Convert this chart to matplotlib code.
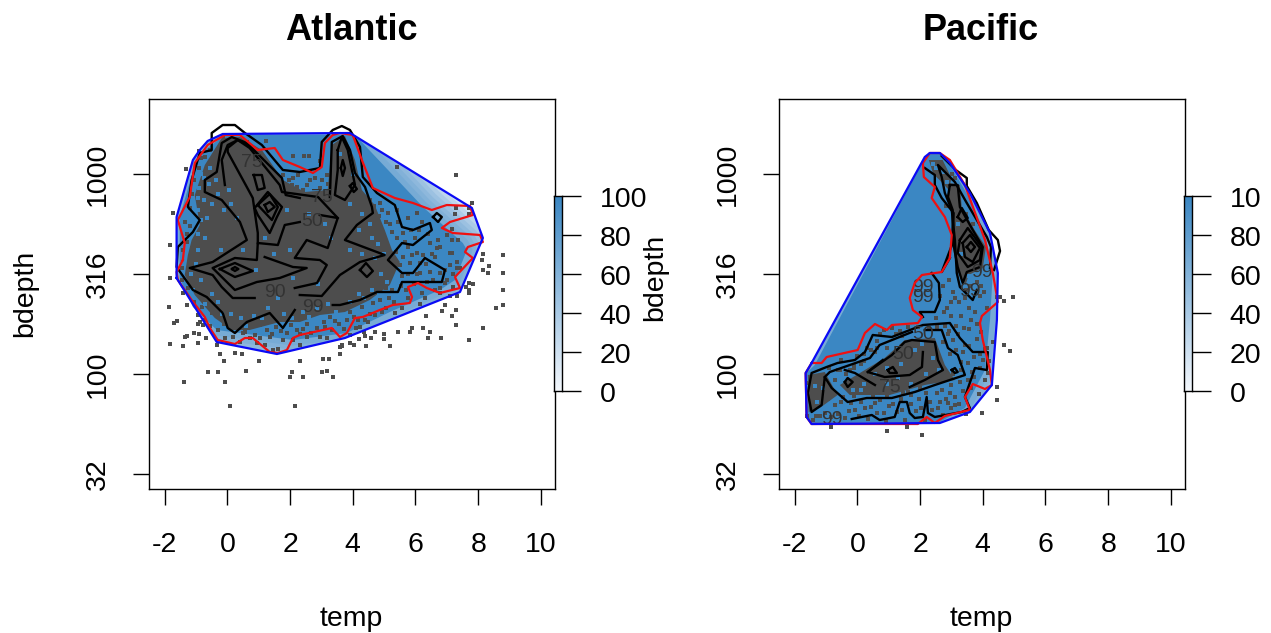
import numpy as np
import matplotlib
matplotlib.use('Agg')
import matplotlib.pyplot as plt
from matplotlib.patches import Polygon
from matplotlib.transforms import ScaledTranslation

plt.rcParams['font.family'] = ['Liberation Sans', 'DejaVu Sans']

# every pair is (temp, log10 bdepth)
x_ticks = [-2, 0, 2, 4, 6, 8, 10]
y_ticks = [3, 2.5, 2, 1.5]
y_tick_labels = ['1000', '316', '100', '32']
bar_ticks = [0, 20, 40, 60, 80, 100]
bar_labels = ['0', '20', '40', '60', '80', '100']
bar_labels_pacific = ['0', '20', '40', '60', '80', '10']

atl_hull = [(-1.62, 2.48), (-1.62, 2.785), (-1.10, 3.07), (-0.88, 3.12), (-0.63, 3.165), (-0.15, 3.20),
            (3.91, 3.205), (7.80, 2.83), (8.15, 2.68), (7.42, 2.41), (3.75, 2.18), (1.58, 2.10), (-0.34, 2.16)]
atl_core = [(4.07, 3.195), (6.24, 2.835), (7.51, 2.655), (7.64, 2.62), (7.26, 2.47), (6.78, 2.42), (5.18, 2.31),
            (3.81, 2.205), (2.09, 2.17), (-0.34, 2.22), (-1.10, 2.335), (-1.52, 2.48), (-1.52, 2.785),
            (-1.04, 3.045), (-0.72, 3.12), (-0.08, 3.195)]
atl_dense = [(-0.18, 3.18), (0.40, 3.185), (1.10, 3.12), (1.77, 2.97), (2.47, 2.91), (3.20, 2.92), (3.33, 3.145),
             (3.75, 3.19), (4.07, 3.07), (4.29, 2.92), (4.70, 2.845), (5.02, 2.72), (5.25, 2.62), (5.50, 2.56),
             (5.18, 2.445), (4.54, 2.37), (3.75, 2.31), (2.95, 2.295), (2.31, 2.26), (1.67, 2.26), (0.71, 2.22),
             (0.14, 2.22), (-0.40, 2.28), (-1.04, 2.395), (-1.36, 2.495), (-1.26, 2.595), (-1.14, 2.67),
             (-0.88, 2.745), (-1.04, 2.895), (-0.72, 3.045)]
atl_red = [(-1.42, 2.57), (-1.36, 2.655), (-1.58, 2.77), (-1.20, 2.885), (-1.04, 3.055), (-0.63, 3.145),
           (-0.08, 3.195), (0.40, 3.195), (0.97, 3.12), (1.51, 3.13), (1.77, 3.07), (2.31, 3.035), (2.73, 3.005),
           (3.01, 3.035), (3.11, 3.155), (3.36, 3.195), (3.59, 3.205), (4.00, 3.195), (4.29, 3.07), (4.64, 2.93),
           (5.34, 2.88), (5.92, 2.855), (6.52, 2.82), (7.00, 2.845), (7.74, 2.84), (7.83, 2.795), (7.10, 2.76),
           (6.84, 2.73), (7.19, 2.705), (8.06, 2.695), (8.15, 2.66), (7.67, 2.635), (7.58, 2.61), (7.83, 2.58),
           (7.26, 2.485), (7.42, 2.43), (6.78, 2.405), (6.36, 2.43), (6.08, 2.455), (5.76, 2.435), (5.89, 2.385),
           (5.82, 2.355), (5.28, 2.345), (4.86, 2.32), (4.32, 2.285), (4.07, 2.28), (3.81, 2.205), (3.59, 2.185),
           (3.33, 2.23), (3.05, 2.22), (2.31, 2.195), (2.09, 2.18), (1.90, 2.12), (1.61, 2.105), (1.35, 2.11),
           (0.81, 2.18), (0.56, 2.18), (0.24, 2.15), (-0.31, 2.17), (-0.56, 2.23), (-0.72, 2.285), (-1.14, 2.37),
           (-1.58, 2.47), (-1.62, 2.51), (-1.42, 2.57)]
atl_contours = [
    [(2.15, 2.32), (1.77, 2.23), (1.35, 2.305), (0.62, 2.26), (0.24, 2.205), (0.01, 2.23), (-0.15, 2.305),
     (-0.66, 2.385), (-1.10, 2.42), (-1.62, 2.535), (-1.58, 2.635), (-1.10, 2.71), (-0.88, 2.77), (-1.26, 2.835),
     (-1.14, 2.97), (-0.88, 3.105), (-0.50, 3.12), (-0.50, 3.205), (-0.15, 3.245), (0.24, 3.245), (0.56, 3.205),
     (1.10, 3.145), (1.77, 3.02), (2.31, 3.01), (2.95, 3.03), (3.01, 3.16), (3.36, 3.22), (3.65, 3.24),
     (3.91, 3.22), (4.23, 3.135), (4.32, 2.985), (4.77, 2.905), (5.34, 2.845), (5.57, 2.735), (5.92, 2.72),
     (6.46, 2.755), (6.52, 2.72), (5.92, 2.645), (5.57, 2.655), (5.12, 2.57), (5.57, 2.505), (5.92, 2.505),
     (6.30, 2.58), (6.94, 2.52), (6.84, 2.46), (5.57, 2.46), (5.44, 2.41), (4.77, 2.41), (4.23, 2.37),
     (3.59, 2.345), (3.36, 2.345)],
    [(0.87, 2.38), (0.17, 2.38), (-0.18, 2.435), (-0.47, 2.495), (-1.20, 2.53), (-0.47, 2.56), (0.62, 2.67),
     (0.40, 2.76), (-0.18, 2.87), (-0.72, 2.91), (-0.72, 2.97), (-0.34, 3.01), (-0.18, 3.155), (0.14, 3.185),
     (0.62, 3.155), (1.74, 2.98), (1.86, 2.895), (2.31, 2.88)],
    [(3.27, 2.885), (3.33, 3.16), (3.68, 3.19), (3.91, 3.12), (4.07, 3.005), (4.39, 2.935), (4.61, 2.835),
     (4.64, 2.805), (4.13, 2.745), (3.75, 2.67), (5.02, 2.595), (4.23, 2.56), (3.59, 2.495), (3.01, 2.39),
     (2.31, 2.395)],
    [(2.15, 2.43), (2.86, 2.455), (3.17, 2.545), (2.95, 2.57), (2.15, 2.58), (2.53, 2.67), (3.20, 2.63),
     (3.52, 2.78), (2.95, 2.795)],
    [(2.31, 2.76), (1.83, 2.745), (1.61, 2.645), (0.97, 2.655), (0.94, 2.57), (0.24, 2.58), (-0.47, 2.53),
     (0.24, 2.42), (0.94, 2.46), (1.67, 2.48), (2.53, 2.53), (2.09, 2.535), (1.19, 2.585)],
    [(-0.08, 2.945), (-0.18, 3.07), (0.01, 3.145), (0.33, 3.17), (0.71, 3.13), (1.67, 2.945), (1.74, 2.91),
     (2.89, 2.885), (3.52, 2.78)],
    [(0.71, 3.14), (0.33, 3.17), (0.01, 3.13), (0.01, 3.11), (0.62, 2.935), (0.81, 2.88), (0.97, 2.705),
     (0.97, 2.655)],
    [(3.52, 3.12), (3.65, 3.185), (3.84, 3.12), (4.07, 2.945), (3.75, 2.87), (3.43, 2.895), (3.52, 3.02), (3.52, 3.12)],
]
atl_rings = [
    [(0.97, 2.845), (1.35, 2.90), (1.61, 2.835), (1.42, 2.77)],
    [(1.19, 2.845), (1.35, 2.86), (1.51, 2.835), (1.29, 2.81)],
    [(0.84, 2.995), (1.10, 2.995), (1.19, 2.93), (0.97, 2.92)],
    [(3.62, 3.03), (3.68, 3.07), (3.75, 3.03), (3.68, 2.99)],
    [(3.91, 2.94), (4.00, 2.955), (4.13, 2.925), (4.03, 2.91)],
    [(4.23, 2.52), (4.42, 2.555), (4.64, 2.515), (4.45, 2.485)],
    [(6.56, 2.785), (6.68, 2.805), (6.84, 2.785), (6.72, 2.76)],
    [(-0.24, 2.525), (0.24, 2.555), (0.81, 2.515), (0.24, 2.485)],
    [(0.87, 2.83), (1.29, 2.91), (1.74, 2.835), (1.58, 2.785), (1.35, 2.705), (0.97, 2.795)],
    [(0.15, 2.525), (0.24, 2.535), (0.35, 2.525), (0.24, 2.515)],
]
atl_labels = [('50', 2.69, 2.76), ('75', 3.01, 2.885), ('75', 0.78, 3.055), ('90', 1.51, 2.405), ('99', 2.73, 2.33)]
atl_points = [
    (-1.84, 2.48), (-1.87, 2.335), (-1.71, 2.255), (-1.62, 2.265), (-1.84, 2.15), (-1.42, 2.14), (-1.36, 2.185),
    (-1.30, 2.19), (-1.07, 2.205), (-0.91, 2.20), (-0.94, 2.155), (-0.69, 2.18), (-0.24, 2.10), (-0.11, 2.065),
    (0.24, 2.105), (0.46, 2.10), (1.00, 2.065), (-0.63, 2.01), (-0.31, 2.01), (0.59, 2.015), (-1.39, 1.96),
    (-0.08, 1.96), (0.08, 1.84), (2.15, 1.84), (1.99, 1.985), (2.06, 2.01), (2.41, 1.985), (2.31, 2.065),
    (3.05, 2.075), (3.24, 2.075), (3.59, 2.10), (3.01, 2.01), (3.17, 2.015), (3.36, 1.985),
    (8.79, 2.595), (8.15, 2.60), (8.12, 2.57), (8.34, 2.54), (8.15, 2.52), (8.31, 2.505), (8.79, 2.505),
    (8.79, 2.42), (8.79, 2.345), (8.57, 2.33), (7.70, 2.455), (7.83, 2.45), (7.61, 2.435), (7.70, 2.42),
    (7.70, 2.405), (7.29, 2.32), (6.84, 2.315), (7.16, 2.29), (6.33, 2.29), (6.94, 2.345), (7.29, 2.245),
    (8.15, 2.23), (6.24, 2.23), (5.89, 2.23), (5.82, 2.21), (5.44, 2.21), (4.70, 2.21), (4.99, 2.20),
    (4.99, 2.175), (4.58, 2.18), (4.39, 2.19), (4.35, 2.21), (4.19, 2.175), (3.91, 2.155), (4.03, 2.145),
    (4.42, 2.14), (5.18, 2.14), (3.65, 2.14), (6.40, 2.18), (6.81, 2.18), (7.70, 2.17), (6.46, 2.21),
    (5.41, 3.035), (7.29, 2.995), (7.80, 2.855), (7.29, 2.83), (7.70, 2.83), (7.26, 2.80), (7.70, 2.80),
    (7.16, 2.725), (-1.33, 3.025), (-1.74, 2.805), (-1.84, 2.645), (-0.91, 3.115), (1.23, 3.165), (2.09, 3.09),
    (2.44, 3.09), (2.60, 3.09), (2.95, 3.065),
    (4.86, 2.855), (4.93, 2.82), (4.54, 2.87), (5.12, 2.805), (5.41, 2.82), (5.76, 2.78), (6.05, 2.805),
    (6.21, 2.76), (4.93, 2.695), (5.25, 2.71), (5.60, 2.705), (5.98, 2.68), (6.46, 2.655), (6.72, 2.67),
    (7.00, 2.695), (7.16, 2.67), (7.35, 2.67), (6.78, 2.635), (7.16, 2.605), (5.60, 2.585), (5.89, 2.595),
    (5.76, 2.635), (6.05, 2.605), (6.69, 2.63), (7.10, 2.605), (7.32, 2.56), (7.42, 2.53), (6.78, 2.505),
    (7.10, 2.545), (6.62, 2.585), (6.24, 2.595), (5.82, 2.555), (5.50, 2.545), (6.14, 2.505), (6.56, 2.47),
    (6.94, 2.455), (7.19, 2.435), (6.78, 2.43), (6.30, 2.38), (6.21, 2.405), (6.14, 2.35), (5.76, 2.38),
    (5.57, 2.33), (5.35, 2.305), (5.16, 2.38), (4.86, 2.37), (4.64, 2.355), (4.39, 2.27), (4.10, 2.23),
    (3.81, 2.27), (4.30, 2.335), (3.91, 2.31), (4.22, 2.235), (6.78, 2.405), (7.10, 2.39), (7.32, 2.39),
    (7.32, 2.53), (6.94, 2.52), (6.46, 2.51), (6.14, 2.555),
    (-0.88, 2.26), (-0.94, 2.295), (-1.30, 2.345), (-1.42, 2.405), (-0.31, 2.22), (-0.08, 2.18), (0.08, 2.32),
    (0.17, 2.185), (0.40, 2.16), (0.71, 2.18), (1.03, 2.18), (1.19, 2.145), (1.45, 2.12), (1.61, 2.125),
    (1.35, 2.185), (1.77, 2.17), (2.31, 2.145), (2.54, 2.185), (3.27, 2.285), (2.95, 2.185), (3.17, 2.18),
    (3.59, 2.135), (3.65, 2.145), (3.33, 2.22), (2.86, 2.23), (2.22, 2.22), (1.90, 2.205), (0.88, 2.195),
    (0.49, 2.205), (0.40, 2.31), (-0.34, 2.36), (-0.72, 2.27), (-0.78, 2.245), (-0.34, 2.145), (0.94, 2.155),
    (2.09, 2.17), (3.91, 2.195),
    (1.77, 2.995), (2.09, 2.98), (2.25, 2.995), (2.63, 2.97), (2.79, 2.98), (3.01, 2.97), (3.17, 2.995),
    (3.33, 2.97), (3.52, 2.92), (2.22, 2.935), (2.53, 2.945), (-0.34, 3.02), (-0.72, 3.085), (-0.56, 3.12),
    (-0.95, 2.25), (-0.55, 2.24), (0.28, 2.245), (0.75, 2.245), (1.25, 2.22), (1.55, 2.235), (2.55, 2.25),
    (3.55, 2.25), (4.55, 2.30), (4.05, 2.285), (5.05, 2.33), (5.30, 2.36), (5.55, 2.44), (5.75, 2.50),
]
atl_fringe = [
    (0.55, 2.21), (1.05, 2.245), (1.42, 2.20), (1.72, 2.215), (2.03, 2.245), (2.42, 2.225), (2.68, 2.205),
    (3.08, 2.26), (3.42, 2.265), (3.72, 2.225), (4.18, 2.27), (4.48, 2.26), (4.72, 2.295), (4.92, 2.31),
    (3.12, 2.235), (2.33, 2.20), (1.15, 2.25), (0.32, 2.275), (-0.12, 2.25), (-0.48, 2.305), (-0.82, 2.335),
    (-1.05, 2.36), (-1.25, 2.43), (-1.44, 2.47), (-1.46, 2.53), (-1.42, 2.62), (-1.30, 2.70), (-1.18, 2.74),
    (-1.36, 2.76), (-1.18, 2.83), (-1.12, 2.90), (-1.05, 2.97), (-0.92, 3.03), (-0.85, 3.08), (-1.28, 2.66),
    (5.28, 2.52), (5.38, 2.61), (5.42, 2.68), (5.20, 2.75), (5.05, 2.76), (5.58, 2.49), (5.70, 2.42), (5.95, 2.45),
    (6.05, 2.50), (6.35, 2.55), (6.52, 2.60), (5.68, 2.66), (5.85, 2.72), (6.10, 2.72), (6.40, 2.70), (5.45, 2.76),
    (5.25, 2.42), (5.05, 2.43), (6.62, 2.42), (7.00, 2.47), (7.20, 2.50), (6.38, 2.46), (4.85, 2.79), (4.68, 2.84),
    (2.05, 2.945), (2.40, 2.92), (2.95, 2.93), (3.20, 2.95), (1.95, 2.97), (0.62, 3.16), (-0.15, 3.19),
]
atl_gaps = [
    (-0.9, 2.93), (-0.75, 2.87), (-0.95, 2.82), (-0.6, 2.95), (-0.5, 2.85), (-0.85, 2.77), (-0.65, 2.78),
    (-0.3, 2.9), (-0.1, 2.82), (0.1, 2.85), (0.3, 2.78), (-0.75, 2.98), (-0.55, 3.03), (0.05, 2.92), (-0.95, 2.7),
    (-0.7, 2.68), (-1.0, 2.55), (-1.15, 2.5), (-0.85, 2.47), (-0.5, 2.4), (-0.3, 2.36), (-0.7, 2.35), (0.1, 2.3),
    (0.45, 2.28), (0.85, 2.29), (1.3, 2.33), (1.8, 2.3), (2.4, 2.31), (2.85, 2.33), (3.2, 2.35), (3.9, 2.36),
    (4.2, 2.4), (4.6, 2.42), (4.9, 2.5), (5.0, 2.6), (4.8, 2.65), (4.55, 2.75), (4.3, 2.8), (3.9, 2.85),
    (3.1, 2.75), (2.6, 2.8), (1.9, 2.82), (1.5, 2.6), (1.2, 2.68), (2.0, 2.62), (3.3, 2.68), (3.9, 2.62),
    (4.3, 2.6), (2.9, 2.45), (1.6, 2.38), (0.9, 2.52), (0.5, 2.62), (-0.2, 2.62), (3.6, 3.1), (4.0, 3.0),
    (2.1, 2.48), (-0.95, 2.62), (-1.1, 2.42), (-0.62, 2.28), (-0.18, 2.30), (0.6, 2.24), (1.1, 2.28), (2.05, 2.28),
    (2.6, 2.285), (3.45, 2.31), (4.35, 2.38), (4.85, 2.40), (5.1, 2.46), (4.7, 2.58), (4.6, 2.68), (4.2, 2.72),
    (-0.85, 3.0), (-0.95, 2.88), (-0.35, 2.97),
]

pac_hull = [(-1.46, 2.055), (2.15, 3.085), (2.31, 3.105), (2.63, 3.105), (2.95, 3.055), (3.59, 2.905), (4.23, 2.705),
            (4.48, 2.505), (4.45, 2.27), (4.29, 1.945), (3.59, 1.81), (2.63, 1.755), (-1.46, 1.75), (-1.62, 1.785),
            (-1.65, 2.005)]
pac_core = [(-1.36, 2.045), (2.15, 3.08), (2.31, 3.10), (2.63, 3.10), (2.95, 3.045), (3.52, 2.895), (4.07, 2.705),
            (4.32, 2.505), (4.23, 2.27), (4.07, 2.02), (3.43, 1.83), (2.63, 1.76), (-1.46, 1.755), (-1.62, 1.785),
            (-1.62, 2.005)]
pac_dense = [
    [(2.95, 2.955), (3.27, 2.945), (3.33, 2.835), (3.74, 2.72), (4.10, 2.635), (4.00, 2.53), (3.55, 2.495),
     (3.45, 2.445), (3.17, 2.52), (3.01, 2.67), (3.01, 2.82), (2.89, 2.885)],
    [(0.08, 2.005), (0.87, 2.08), (1.51, 2.17), (2.47, 2.18), (2.79, 2.045), (3.11, 1.97), (2.15, 1.945),
     (1.03, 1.895), (-0.24, 1.895), (-0.56, 1.945)],
    [(-1.58, 1.995), (-1.04, 2.01), (-0.63, 1.895), (-1.20, 1.83), (-1.55, 1.81)],
    [(2.28, 3.07), (2.72, 3.07), (3.0, 2.98), (2.92, 2.92), (2.62, 2.97), (2.42, 3.0)],
]
pac_red = [(2.09, 3.055), (2.12, 2.985), (2.47, 2.935), (2.37, 2.88), (2.79, 2.785), (3.01, 2.695), (2.95, 2.58),
           (2.69, 2.51), (2.06, 2.495), (1.83, 2.455), (1.67, 2.38), (1.77, 2.32), (2.06, 2.285), (1.93, 2.255),
           (1.10, 2.245), (0.94, 2.22), (0.56, 2.25), (0.24, 2.205), (0.01, 2.12), (-0.98, 2.085), (-1.14, 2.055),
           (-1.46, 2.055), (-1.65, 2.005), (-1.62, 1.785), (-1.46, 1.75), (1.93, 1.75), (2.21, 1.785), (2.47, 1.755),
           (2.79, 1.79), (3.43, 1.815), (3.59, 1.82), (3.43, 1.885), (3.68, 1.95), (4.07, 1.925), (4.29, 1.945),
           (4.23, 2.02), (4.00, 2.17), (3.91, 2.255), (3.97, 2.29), (4.48, 2.36), (4.32, 2.505), (4.07, 2.67),
           (3.43, 2.945), (2.95, 3.07), (2.63, 3.105), (2.31, 3.105), (2.09, 3.055)]
pac_contours = [
    [(2.95, 2.58), (2.69, 2.51), (3.04, 2.655), (3.07, 2.805), (2.69, 2.88), (2.47, 2.945), (2.47, 2.995), (2.15, 3.03)],
    [(2.69, 3.09), (3.14, 3.02), (3.49, 2.98), (3.49, 2.94), (3.81, 2.855), (4.19, 2.72), (4.48, 2.67), (4.55, 2.615), (4.36, 2.52)],
    [(2.95, 2.945), (3.20, 2.945), (3.27, 2.835), (3.68, 2.72), (4.00, 2.635), (3.91, 2.535), (3.49, 2.51),
     (3.36, 2.455), (3.20, 2.535), (3.04, 2.67), (3.04, 2.82), (2.89, 2.885), (2.95, 2.945)],
    [(3.81, 2.42), (3.68, 2.37), (3.27, 2.435), (3.17, 2.505), (3.11, 2.67), (3.01, 2.82), (2.79, 2.905), (2.69, 2.985), (2.57, 3.045),
     (3.11, 2.96), (3.49, 2.855), (4.13, 2.685), (4.26, 2.635), (4.23, 2.53)],
    [(2.37, 2.505), (2.60, 2.455), (2.63, 2.37), (2.47, 2.31), (1.99, 2.31), (2.09, 2.285)],
    [(-0.18, 1.775), (0.46, 1.795), (0.71, 1.77), (1.19, 1.785), (1.35, 1.86), (1.58, 1.86), (1.67, 1.805), (1.83, 1.78),
     (2.09, 1.785), (2.21, 1.885), (2.25, 1.805), (2.47, 1.785), (3.33, 1.81), (3.59, 1.83), (3.43, 1.885), (3.75, 2.03),
     (4.13, 2.02), (4.16, 2.11), (3.68, 2.11), (3.27, 2.18), (2.95, 2.255), (2.09, 2.245), (1.10, 2.185), (0.49, 2.195),
     (0.24, 2.11), (-0.08, 2.07), (-0.63, 2.055), (-0.98, 2.035), (-1.46, 2.005), (-1.58, 1.905), (-1.46, 1.81),
     (-1.14, 1.845), (-1.04, 1.985), (-0.82, 1.93), (-0.31, 1.86), (0.30, 1.88), (1.10, 1.88), (1.83, 1.91), (2.47, 1.945),
     (3.43, 1.995), (3.20, 2.095), (2.89, 2.13), (2.69, 2.22), (2.15, 2.22)],
    [(1.74, 2.21), (0.71, 2.145), (0.40, 2.08), (-0.24, 2.045), (-0.88, 2.01), (-1.04, 1.985)],
    [(-0.40, 2.02), (-0.08, 2.005), (0.56, 1.945)],
    [(1.67, 1.935), (2.15, 1.97), (2.73, 2.02), (2.57, 2.07), (2.47, 2.16), (1.74, 2.17), (1.51, 2.16), (1.10, 2.095),
     (0.78, 2.06), (0.33, 2.01)],
    [(0.81, 2.07), (0.33, 2.01), (0.87, 1.985), (1.67, 1.995), (2.06, 2.035), (2.09, 2.11)],
]
pac_rings = [
    [(3.27, 2.67), (3.52, 2.73), (3.97, 2.635), (3.91, 2.57), (3.52, 2.535), (3.20, 2.605)],
    [(3.36, 2.655), (3.59, 2.695), (3.91, 2.63), (3.68, 2.56), (3.43, 2.585)],
    [(3.49, 2.635), (3.62, 2.66), (3.75, 2.635), (3.62, 2.61)],
    [(3.20, 2.785), (3.33, 2.83), (3.52, 2.78), (3.36, 2.76)],
    [(0.97, 2.02), (1.13, 2.035), (1.26, 2.005), (1.03, 2.005)],
    [(-0.40, 1.96), (-0.31, 1.98), (-0.15, 1.96), (-0.31, 1.935)],
    [(3.01, 2.02), (3.11, 2.03), (3.20, 2.01), (3.11, 2.005)],
]
pac_labels = [('50', 2.09, 2.195), ('50', 1.45, 2.095), ('75', 1.03, 1.93), ('99', -0.82, 1.77),
              ('99', 2.09, 2.43), ('99', 2.09, 2.385), ('99', 3.97, 2.505), ('99', 3.59, 2.41)]
pac_points = [
    (4.67, 2.145), (4.86, 2.115), (4.45, 1.935), (4.45, 1.87), (3.97, 1.805), (2.06, 1.695), (1.58, 1.735),
    (0.94, 1.715), (-0.85, 1.735), (4.32, 2.16), (4.55, 2.385), (4.96, 2.385), (4.67, 2.365), (4.45, 2.385),
    (2.63, 2.39), (2.85, 2.33), (3.05, 2.41), (3.30, 2.29), (3.55, 2.33), (3.75, 2.31), (4.05, 2.41), (3.15, 2.24),
    (2.50, 2.28), (3.45, 2.42), (3.90, 2.39), (4.15, 2.33), (3.00, 2.36),
    (0.85, 2.22), (1.22, 2.20), (1.63, 2.235), (2.55, 2.235), (2.93, 2.215), (3.22, 2.20), (3.57, 2.225), (3.93, 2.21),
    (0.62, 2.165), (1.42, 2.19), (1.93, 2.235), (3.05, 2.17), (3.42, 2.145), (3.83, 2.175), (4.12, 2.13),
    (0.43, 2.12), (0.93, 2.13), (3.37, 2.11), (3.72, 2.085), (4.06, 2.125), (4.21, 2.065),
    (-0.52, 2.07), (-0.11, 2.04), (0.22, 2.065), (3.52, 2.055), (3.91, 2.03), (4.17, 2.005),
    (-0.91, 2.03), (-0.62, 2.02), (-0.24, 2.02), (3.31, 2.02), (3.73, 1.985), (4.08, 1.97),
    (-1.55, 1.955), (-0.45, 1.885), (-0.2, 1.855), (0.12, 1.86), (0.45, 1.835), (0.72, 1.87), (1.02, 1.84),
    (1.38, 1.875), (1.72, 1.85), (1.97, 1.875), (2.32, 1.86), (2.56, 1.83), (2.83, 1.875), (3.12, 1.845),
    (3.36, 1.915), (3.62, 1.93), (3.88, 1.90), (2.7, 1.92), (2.95, 1.905), (-0.95, 1.875), (-0.72, 1.845),
    (-1.02, 1.805), (-0.62, 1.80), (-0.28, 1.815), (0.05, 1.79), (0.33, 1.775), (0.62, 1.805), (0.92, 1.765),
    (1.25, 1.81), (1.52, 1.77), (1.88, 1.815), (2.15, 1.77), (2.72, 1.795), (2.98, 1.83), (3.25, 1.85), (3.48, 1.80),
    (-1.42, 1.77), (-1.6, 1.79), (-1.32, 1.85), (-1.25, 1.925), (-0.95, 1.95), (-0.7, 1.97),
    (0.15, 1.93), (0.42, 1.905), (0.8, 1.915), (1.2, 1.925), (1.6, 1.91), (2.0, 1.93), (2.55, 2.0), (2.95, 2.1),
    (3.05, 2.0), (2.9, 2.2), (0.2, 2.1), (0.55, 2.11), (-0.35, 2.0), (0.0, 2.09),
]
pac_fringe = [
    (2.72, 2.44), (2.92, 2.47), (3.1, 2.38), (3.25, 2.36), (3.42, 2.38), (3.6, 2.44), (3.8, 2.46), (3.95, 2.44),
    (2.75, 2.31), (2.98, 2.29), (3.62, 2.27), (3.82, 2.25), (2.8, 2.24), (3.4, 2.23), (2.72, 2.16), (2.3, 2.23),
    (1.35, 2.215), (1.1, 2.23), (0.72, 2.2), (3.15, 2.12), (3.55, 2.14), (3.9, 2.1), (3.3, 2.06), (3.65, 2.01),
    (4.0, 2.07), (-0.75, 1.9), (-0.52, 1.86), (-0.08, 1.82), (0.25, 1.83), (0.55, 1.855), (0.85, 1.805), (1.15, 1.85),
    (1.42, 1.82), (1.72, 1.895), (2.02, 1.83), (2.38, 1.82), (2.65, 1.86), (2.9, 1.855), (3.1, 1.885), (3.28, 1.96),
    (3.52, 1.97), (3.0, 1.945), (2.55, 1.905), (2.2, 1.905), (1.45, 1.905), (0.95, 1.895), (0.5, 1.89), (-0.1, 1.89),
    (-0.4, 1.78), (-0.85, 1.785), (-1.18, 1.79), (-1.32, 1.79), (-0.9, 1.92), (-0.55, 2.02), (-0.1, 2.03), (0.1, 2.05),
    (0.32, 2.13), (0.62, 2.13), (3.02, 3.0), (3.12, 2.98), (3.22, 2.9), (3.45, 2.8), (3.68, 2.75), (2.82, 2.84),
]
pac_gaps = [
    (-1.35, 1.94), (-1.1, 1.93), (-1.3, 1.86), (0.2, 1.95), (0.55, 2.0), (0.95, 1.95), (1.3, 1.98), (1.7, 1.95),
    (2.2, 2.0), (2.4, 2.08), (1.85, 2.12), (1.4, 2.05), (0.95, 2.03), (0.1, 1.92), (2.6, 2.02), (-0.15, 1.92),
    (2.05, 2.15), (1.25, 2.14), (3.3, 2.6), (3.55, 2.49), (3.2, 2.75), (3.75, 2.68), (2.5, 3.03), (2.72, 3.01),
    (2.4, 3.05), (2.85, 2.96),
]

BLUE = '#3b87c3'
GREY = '#4d4d4d'
FIG_W, FIG_H = 1271, 633


def px_axes(fig, left, top, right, bottom):
    return fig.add_axes([left / FIG_W, 1 - bottom / FIG_H, (right - left) / FIG_W, (bottom - top) / FIG_H])


def panel(fig, left, hull, core, dense, red, contours, rings, labels, points, gaps):
    ax = px_axes(fig, left, 99, left + 406, 489)
    ax.set_xlim(-2.5, 10.45)
    ax.set_ylim(1.425, 3.375)
    ax.set_xticks(x_ticks)
    ax.set_xticklabels([str(v) for v in x_ticks])
    ax.set_yticks(y_ticks)
    ax.set_yticklabels(y_tick_labels, rotation=90, va='center')
    ax.tick_params(length=11.5, width=1, labelsize=20.5, pad=16)
    ax.tick_params(axis='x', pad=19.5)
    for s in ax.spines.values():
        s.set_linewidth(1)

    hull_patch = Polygon(hull, closed=True, facecolor='#eff5fb', edgecolor='none', zorder=1)
    ax.add_patch(hull_patch)
    for lw in (44, 38, 32, 26, 20, 14, 8):
        p = Polygon(core, closed=True, facecolor='none', edgecolor=BLUE, lw=lw, alpha=0.14,
                    joinstyle='round', zorder=2)
        ax.add_patch(p)
        p.set_clip_path(hull_patch)
    ax.add_patch(Polygon(core, closed=True, facecolor=BLUE, edgecolor='none', zorder=3))

    for d in dense:
        ax.add_patch(Polygon(d, closed=True, facecolor=GREY, edgecolor='none', zorder=4))
    pts = np.array(points)
    ax.scatter(pts[:, 0], pts[:, 1], marker='s', s=11, color=GREY, lw=0, zorder=5, clip_on=False)
    gp = np.array(gaps)
    ax.scatter(gp[:, 0], gp[:, 1], marker='s', s=5, color=BLUE, lw=0, zorder=6)

    for c in contours:
        c = np.array(c)
        ax.plot(c[:, 0], c[:, 1], color='black', lw=1.7, zorder=7)
    for r in rings:
        r = np.array(r + r[:1])
        ax.plot(r[:, 0], r[:, 1], color='black', lw=1.7, zorder=7)
    for txt, t, d in labels:
        ax.text(t, d, txt, fontsize=14, color='#333333', ha='center', va='center', zorder=8)

    r = np.array(red)
    ax.plot(r[:, 0], r[:, 1], color='#f01010', lw=1.6, zorder=9)
    h = np.array(hull + hull[:1])
    ax.plot(h[:, 0], h[:, 1], color='#0a0af5', lw=1.6, zorder=10)
    return ax


def colour_bar(fig, left, labels):
    cax = px_axes(fig, left, 196, left + 8.5, 391)
    colours = matplotlib.colors.LinearSegmentedColormap.from_list('bar', ['#f3f7fc', BLUE])
    grad = np.linspace(0, 100, 128).reshape(-1, 1)
    cax.imshow(grad, cmap=colours, origin='lower', aspect='auto', extent=[0, 1, 0, 100])
    cax.set_xticks([])
    cax.yaxis.tick_right()
    cax.set_yticks(bar_ticks)
    cax.set_yticklabels(labels, va='center')
    cax.tick_params(length=13.5, width=1, labelsize=20.5, pad=13.5)
    shift = ScaledTranslation(0, -3 / 72, fig.dpi_scale_trans)
    for lab in cax.get_yticklabels():
        lab.set_transform(lab.get_transform() + shift)
    for s in cax.spines.values():
        s.set_linewidth(1)
    return cax


fig = plt.figure(figsize=(FIG_W / 100, FIG_H / 100), dpi=100)

panel(fig, 149, atl_hull, atl_core, [atl_dense], atl_red, atl_contours, atl_rings, atl_labels,
      atl_points + atl_fringe, atl_gaps)
panel(fig, 779, pac_hull, pac_core, pac_dense, pac_red, pac_contours, pac_rings, pac_labels,
      pac_points + pac_fringe, pac_gaps)
colour_bar(fig, 553.5, bar_labels)
colour_bar(fig, 1183.5, bar_labels_pacific)

fig.text(351 / FIG_W, 1 - 30 / FIG_H, 'Atlantic', fontsize=26, fontweight='bold', ha='center', va='center')
fig.text(981 / FIG_W, 1 - 30 / FIG_H, 'Pacific', fontsize=26, fontweight='bold', ha='center', va='center')
fig.text(351 / FIG_W, 1 - 619 / FIG_H, 'temp', fontsize=20.5, ha='center', va='center')
fig.text(981 / FIG_W, 1 - 619 / FIG_H, 'temp', fontsize=20.5, ha='center', va='center')
fig.text(25 / FIG_W, 1 - 293 / FIG_H, 'bdepth', fontsize=20.5, rotation=90, ha='center', va='center')
fig.text(655 / FIG_W, 1 - 277 / FIG_H, 'bdepth', fontsize=20.5, rotation=90, ha='center', va='center')

fig.savefig('out.png', dpi=100)
